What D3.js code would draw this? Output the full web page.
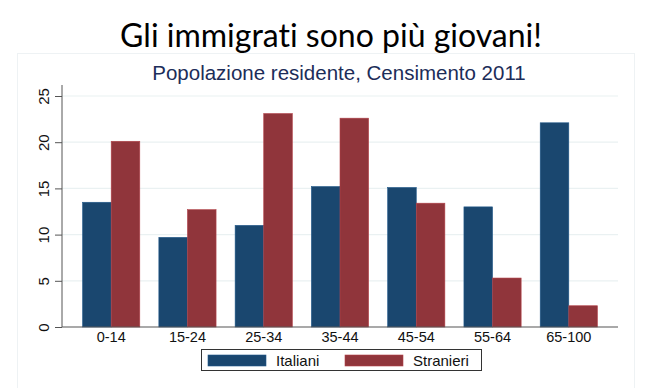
<!DOCTYPE html>
<html>
<head>
<meta charset="utf-8">
<script src="https://cdn.jsdelivr.net/npm/d3@7"></script>
<style>
  body { margin: 0; background: #fff; }
  svg { display: block; }
</style>
</head>
<body>
<div id="chart"></div>
<script>
// age groups and shares (%) of resident population, 2011 census
var ageGroups = ["0-14", "15-24", "25-34", "35-44", "45-54", "55-64", "65-100"];
var italiani  = [13.5, 9.7, 11.0, 15.2, 15.1, 13.0, 22.1];
var stranieri = [20.1, 12.7, 23.1, 22.6, 13.4, 5.3, 2.3];
var seriesNames = ["Italiani", "Stranieri"];
var yTicks = [0, 5, 10, 15, 20, 25];

var colors = { "Italiani": "#1a476f", "Stranieri": "#90353b" };

var width = 660, height = 388;
var plotLeft = 62, plotRight = 618, plotTop = 85, plotBottom = 327;
var labelFont = "'Liberation Sans', Arial, sans-serif";

var svg = d3.select("#chart").append("svg")
  .attr("width", width)
  .attr("height", height);

// faint graph region frame
svg.append("rect")
  .attr("x", 17.5).attr("y", 53.5)
  .attr("width", 617).attr("height", 340)
  .style("fill", "none")
  .style("stroke", "#eef2f4");

svg.append("text")
  .attr("x", 331).attr("y", 47)
  .attr("text-anchor", "middle")
  .style("font-family", "Lato, 'Open Sans', sans-serif")
  .style("font-size", "32px")
  .style("font-variant-ligatures", "none")
  .style("fill", "#000")
  .text("Gli immigrati sono più giovani!");

svg.append("text")
  .attr("x", 339).attr("y", 80)
  .attr("text-anchor", "middle")
  .style("font-family", labelFont)
  .style("font-size", "20.5px")
  .style("fill", "#1c2d59")
  .text("Popolazione residente, Censimento 2011");

var y = d3.scaleLinear().domain([0, 25]).range([plotBottom, 96]);

var x0 = d3.scaleBand().domain(ageGroups).range([plotLeft, plotRight])
  .paddingInner(0.25).paddingOuter(0.27);
var x1 = d3.scaleBand().domain(seriesNames).range([0, x0.bandwidth()]);

// grid
svg.append("g").selectAll("line")
  .data(yTicks.slice(1))
  .enter().append("line")
    .attr("x1", plotLeft).attr("x2", plotRight)
    .attr("y1", function(d) { return y(d); })
    .attr("y2", function(d) { return y(d); })
    .style("stroke", "#eaf1f2")
    .style("stroke-width", 1.2);

var rows = ageGroups.map(function(g, i) {
  return { group: g, values: [
    { name: "Italiani", value: italiani[i] },
    { name: "Stranieri", value: stranieri[i] }
  ]};
});

svg.append("g").selectAll("g")
  .data(rows)
  .enter().append("g")
    .attr("transform", function(d) { return "translate(" + x0(d.group) + ",0)"; })
  .selectAll("rect")
  .data(function(d) { return d.values; })
  .enter().append("rect")
    .attr("x", function(d) { return x1(d.name); })
    .attr("width", x1.bandwidth())
    .attr("y", function(d) { return y(d.value); })
    .attr("height", function(d) { return y(0) - y(d.value); })
    .style("fill", function(d) { return colors[d.name]; })
    .style("stroke", function(d) { return d3.color(colors[d.name]).brighter(0.6); })
    .style("stroke-width", 0.6);

// y axis
var yAxis = svg.append("g")
  .attr("transform", "translate(" + plotLeft + ",0)")
  .call(d3.axisLeft(y).tickValues(yTicks).tickSize(7).tickFormat(d3.format("d")));
yAxis.select(".domain").remove();
yAxis.append("line")
  .attr("x1", 0).attr("x2", 0)
  .attr("y1", plotTop).attr("y2", plotBottom)
  .style("stroke", "#555");
yAxis.selectAll(".tick line").style("stroke", "#555");
yAxis.selectAll(".tick text")
  .attr("transform", "translate(-19,0) rotate(-90)")
  .attr("x", 0).attr("y", 0).attr("dy", null)
  .attr("text-anchor", "middle")
  .attr("dominant-baseline", "central")
  .style("font-family", labelFont)
  .style("font-size", "15px")
  .style("fill", "#111");

// x axis
var xAxis = svg.append("g")
  .attr("transform", "translate(0," + plotBottom + ")")
  .call(d3.axisBottom(x0).tickSize(0).tickPadding(5));
xAxis.select(".domain").remove();
xAxis.append("line")
  .attr("x1", plotLeft).attr("x2", plotRight)
  .style("stroke", "#555").style("stroke-width", 1.2);
xAxis.selectAll(".tick text")
  .style("font-family", labelFont)
  .style("font-size", "14.5px")
  .style("fill", "#111");

// legend
var legend = svg.append("g");
legend.append("rect")
  .attr("x", 201.5).attr("y", 349.5)
  .attr("width", 280).attr("height", 21)
  .style("fill", "#fff")
  .style("stroke", "#333");

var legendX = d3.scaleOrdinal().domain(seriesNames).range([208, 345]);
var items = legend.selectAll(".item")
  .data(seriesNames)
  .enter().append("g")
    .attr("class", "item")
    .attr("transform", function(d) { return "translate(" + legendX(d) + ",0)"; });
items.append("rect")
  .attr("y", 355).attr("width", 58).attr("height", 11)
  .style("fill", function(d) { return colors[d]; })
  .style("stroke", function(d) { return d3.color(colors[d]).brighter(0.6); })
  .style("stroke-width", 0.6);
items.append("text")
  .attr("x", 68).attr("y", 365.5)
  .style("font-family", labelFont)
  .style("font-size", "15px")
  .style("fill", "#111")
  .text(function(d) { return d; });
</script>
</body>
</html>
